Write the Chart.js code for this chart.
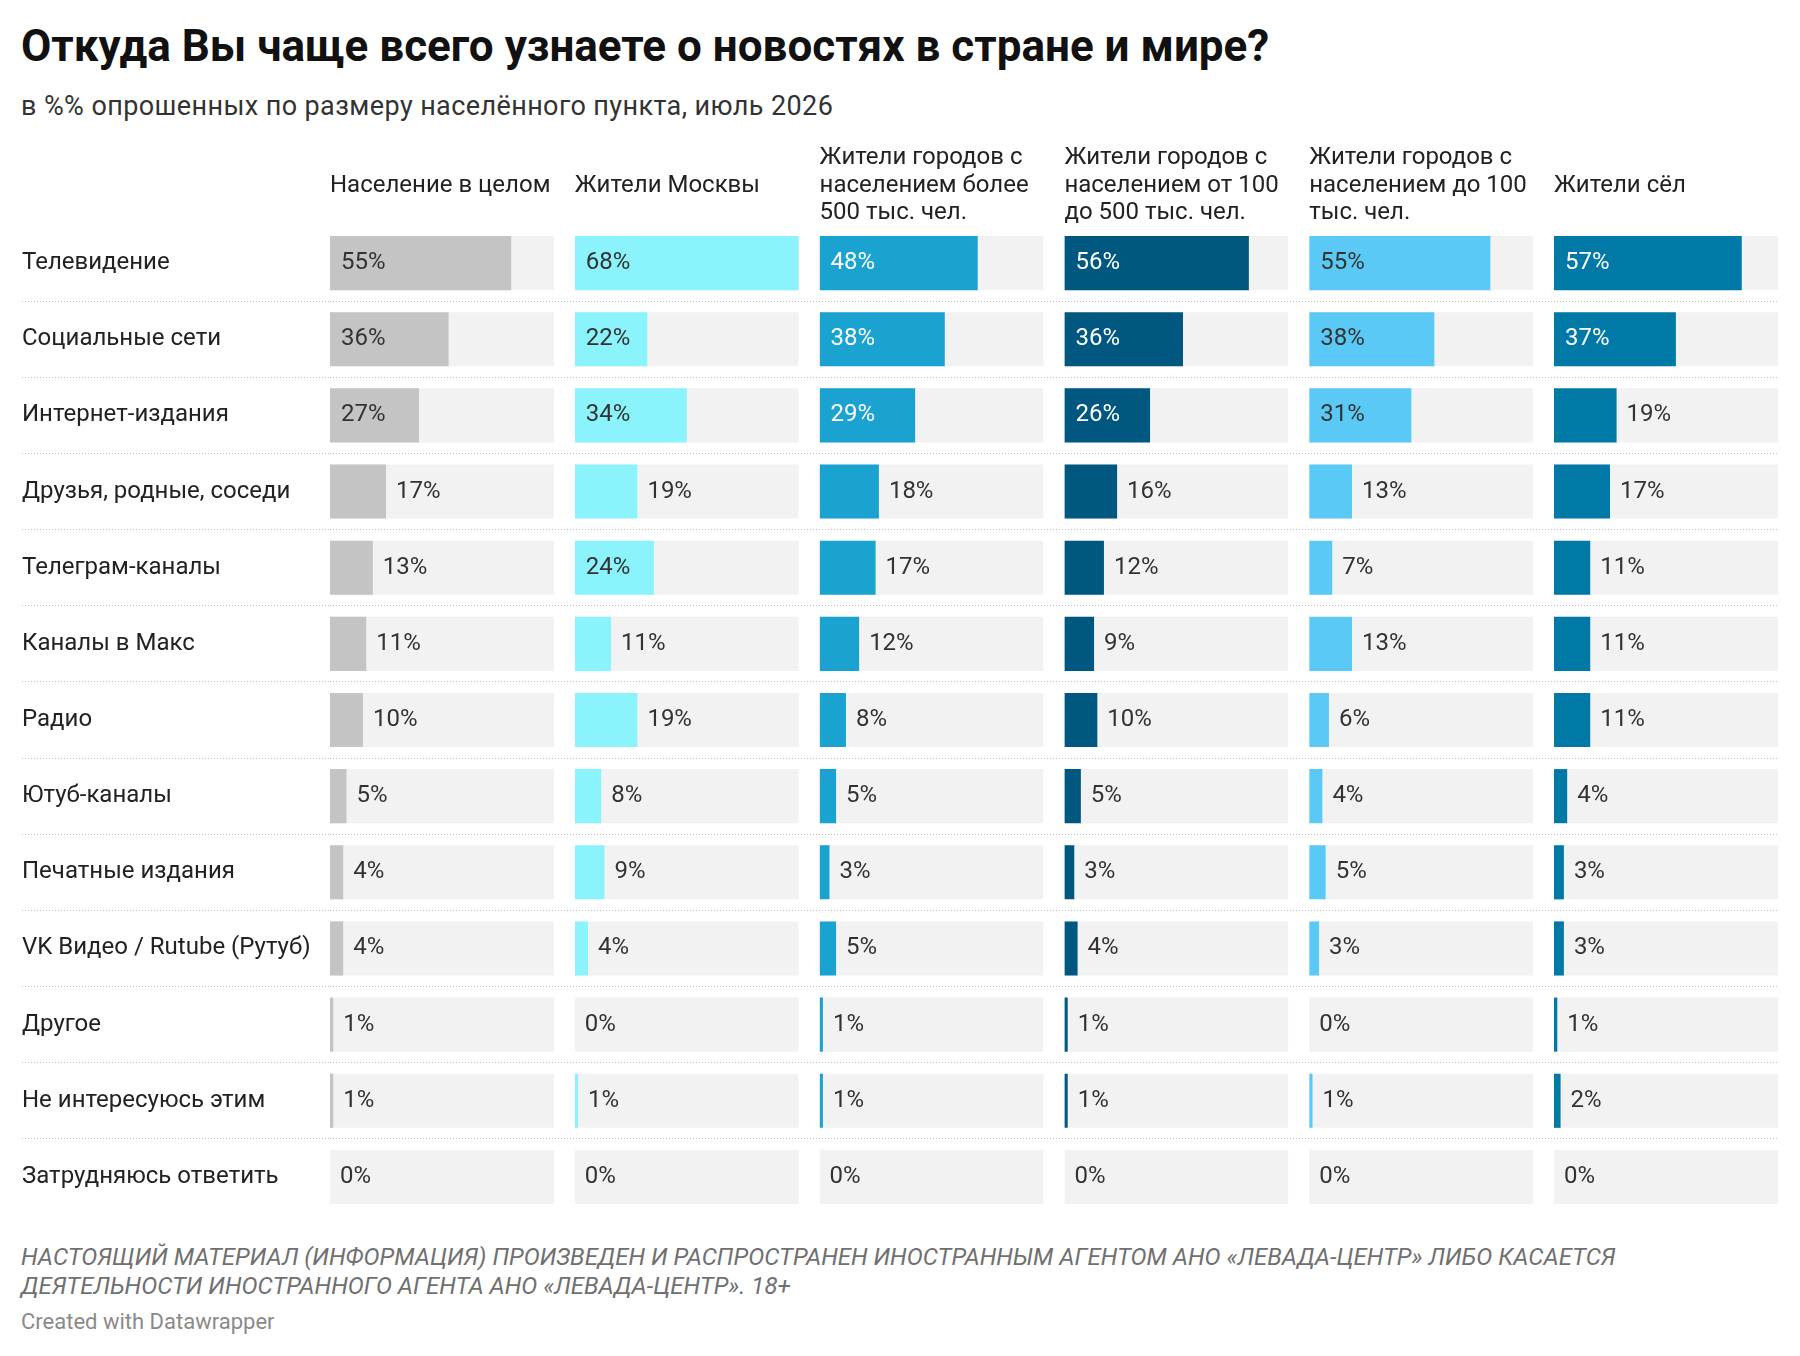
<!DOCTYPE html>
<html><head><meta charset="utf-8">
<script src="https://cdn.jsdelivr.net/npm/chart.js@4.4.1/dist/chart.umd.min.js"></script>
<style>
html,body{margin:0;padding:0;background:#fff;}
#wrap{position:relative;width:1800px;height:1356px;font-family:Roboto,sans-serif;overflow:hidden;}
.t{position:absolute;white-space:nowrap;}
#title{left:21px;top:24px;font-size:44px;line-height:44px;font-weight:700;color:#111;}
#subtitle{left:21px;top:93px;font-size:27px;line-height:27px;letter-spacing:0.4px;color:#333;}
#notes{left:21px;top:1243px;font-size:24px;line-height:29px;font-style:italic;color:#707070;}
#credit{left:21px;top:1311px;font-size:22px;line-height:22px;color:#8a8a8a;}
#box{position:absolute;left:0;top:0;width:1800px;height:1230px;}
</style></head>
<body><div id="wrap">
<div class="t" id="title">Откуда Вы чаще всего узнаете о новостях в стране и мире?</div>
<div class="t" id="subtitle">в %% опрошенных по размеру населённого пункта, июль 2026</div>
<div id="box"><canvas id="c"></canvas></div>
<div class="t" id="notes">НАСТОЯЩИЙ МАТЕРИАЛ (ИНФОРМАЦИЯ) ПРОИЗВЕДЕН И РАСПРОСТРАНЕН ИНОСТРАННЫМ АГЕНТОМ АНО «ЛЕВАДА-ЦЕНТР» ЛИБО КАСАЕТСЯ<br>ДЕЯТЕЛЬНОСТИ ИНОСТРАННОГО АГЕНТА АНО «ЛЕВАДА-ЦЕНТР». 18+</div>
<div class="t" id="credit">Created with Datawrapper</div>
</div>
<script>
// ---- data ----
const categories = [
  'Телевидение', 'Социальные сети', 'Интернет-издания', 'Друзья, родные, соседи',
  'Телеграм-каналы', 'Каналы в Макс', 'Радио', 'Ютуб-каналы', 'Печатные издания',
  'VK Видео / Rutube (Рутуб)', 'Другое', 'Не интересуюсь этим', 'Затрудняюсь ответить'
];
const columnHeaders = [
  ['Население в целом'],
  ['Жители Москвы'],
  ['Жители городов с', 'населением более', '500 тыс. чел.'],
  ['Жители городов с', 'населением от 100', 'до 500 тыс. чел.'],
  ['Жители городов с', 'населением до 100', 'тыс. чел.'],
  ['Жители сёл']
];
const populationTotal = [55, 36, 27, 17, 13, 11, 10, 5, 4, 4, 1, 1, 0];
const moscow          = [68, 22, 34, 19, 24, 11, 19, 8, 9, 4, 0, 1, 0];
const citiesOver500k  = [48, 38, 29, 18, 17, 12, 8, 5, 3, 5, 1, 1, 0];
const cities100to500k = [56, 36, 26, 16, 12, 9, 10, 5, 3, 4, 1, 1, 0];
const citiesUnder100k = [55, 38, 31, 13, 7, 13, 6, 4, 5, 3, 0, 1, 0];
const villages        = [57, 37, 19, 17, 11, 11, 11, 4, 3, 3, 1, 2, 0];
const seriesValues = [populationTotal, moscow, citiesOver500k, cities100to500k, citiesUnder100k, villages];

// ---- styles ----
const barColors = ['#c4c4c4', '#8af3fb', '#1aa2d0', '#00577f', '#5bc9f5', '#0079a6'];
const insideLabelColors = ['#333333', '#333333', '#ffffff', '#ffffff', '#333333', '#ffffff'];
const trackColor = '#f2f2f2';
const colWidthWeight = 224, gapWeight = 20.8;
const fontSize = 24;
const headerLineHeight = 27.5;

Chart.defaults.font.family = 'Roboto';

const maxVal = Math.max(...seriesValues.flat());
const maxLines = Math.max(...columnHeaders.map(h => h.length));

const scales = {};
const datasets = [];
let boxWeight = 100; // top boxes are placed in descending weight order
seriesValues.forEach((vals, i) => {
  const id = 'x' + i;
  scales[id] = {
    type: 'linear', position: 'top', stack: 'cols', stackWeight: colWidthWeight, weight: boxWeight--,
    min: 0, max: maxVal,
    grid: {display: false}, border: {display: false}, ticks: {display: false},
    title: {
      display: true, text: columnHeaders[i], align: 'start', color: '#222',
      font: {size: fontSize, lineHeight: headerLineHeight / fontSize},
      padding: {top: (maxLines - columnHeaders[i].length) * headerLineHeight / 2, bottom: 0}
    }
  };
  if (i < seriesValues.length - 1) {
    scales['gap' + i] = {type: 'linear', position: 'top', stack: 'cols', stackWeight: gapWeight, weight: boxWeight--, display: false};
  }
  datasets.push({
    label: columnHeaders[i].join(' ') + ' (фон)', xAxisID: id,
    data: categories.map(() => maxVal), backgroundColor: trackColor, order: 2, isTrack: true
  });
  datasets.push({
    label: columnHeaders[i].join(' '), xAxisID: id,
    data: vals, backgroundColor: barColors[i], order: 1, colIndex: i
  });
});
scales.y = {
  type: 'category', position: 'left',
  afterFit: (s) => { s.width = 308; },
  ticks: {color: '#222', font: {size: fontSize}, crossAlign: 'far', padding: 0, autoSkip: false},
  grid: {
    offset: true, drawTicks: true, tickLength: 308, lineWidth: 1,
    color: (ctx) => (ctx.type === 'tick' && ctx.index > 0) ? '#bdbdbd' : 'rgba(0,0,0,0)',
    tickBorderDash: [1, 2]
  },
  border: {display: false, dash: [1, 2]}
};

const valueLabels = {
  id: 'valueLabels',
  afterDatasetsDraw(chart) {
    const ctx = chart.ctx;
    ctx.save();
    ctx.font = fontSize + 'px Roboto';
    ctx.textBaseline = 'middle';
    ctx.textAlign = 'left';
    chart.data.datasets.forEach((ds, di) => {
      if (ds.isTrack) return;
      const meta = chart.getDatasetMeta(di);
      meta.data.forEach((bar, j) => {
        const txt = ds.data[j] + '%';
        const w = ctx.measureText(txt).width;
        const barW = bar.x - bar.base;
        const inside = barW >= w + 22;
        ctx.fillStyle = inside ? insideLabelColors[ds.colIndex] : '#333333';
        ctx.fillText(txt, inside ? bar.base + 11 : bar.x + 10, bar.y);
      });
    });
    ctx.restore();
  }
};

new Chart(document.getElementById('c'), {
  type: 'bar',
  data: {labels: categories, datasets},
  options: {
    indexAxis: 'y',
    responsive: true, maintainAspectRatio: false, animation: false,
    layout: {padding: {top: 144.5, left: 22, right: 22, bottom: 15}},
    datasets: {bar: {grouped: false, categoryPercentage: 1, barPercentage: 54 / 76, borderWidth: 0}},
    plugins: {legend: {display: false}, tooltip: {enabled: false}},
    scales
  },
  plugins: [valueLabels]
});
</script>
</body></html>
